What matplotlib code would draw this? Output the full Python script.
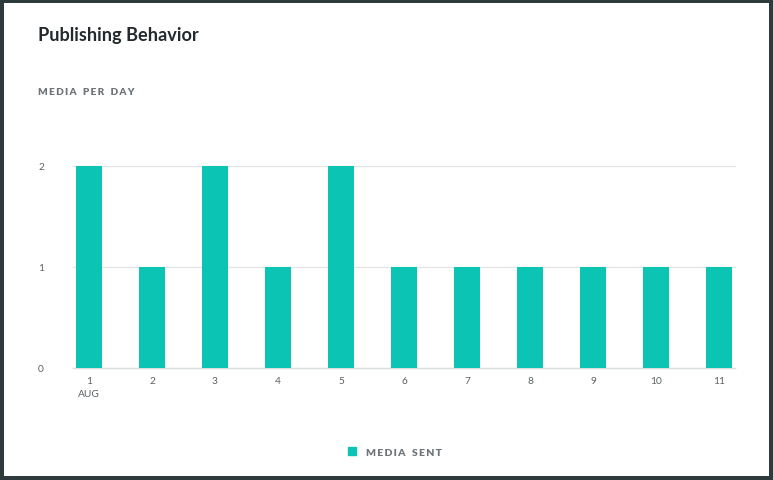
import matplotlib
matplotlib.use("Agg")
import matplotlib.pyplot as plt
from matplotlib.patches import Rectangle

days = [1, 2, 3, 4, 5, 6, 7, 8, 9, 10, 11]
media_sent = [2, 1, 2, 1, 2, 1, 1, 1, 1, 1, 1]
tick_labels = ["1\nAUG", "2", "3", "4", "5", "6", "7", "8", "9", "10", "11"]
y_ticks = [0, 1, 2]

bar_color = "#0cc4b3"
W, H = 773, 481
fig = plt.figure(figsize=(W / 100, H / 100), dpi=100)
fig.patch.set_facecolor("#2f3a3d")


def spaced(s):
    return "\u2009\u2002".join("\u2009".join(w) for w in s.split(" "))


# white card
fig.add_artist(Rectangle((4 / W, 4 / H), (769 - 4) / W, (477 - 4) / H,
                         transform=fig.transFigure, facecolor="white",
                         edgecolor="none", zorder=0))

ax = fig.add_axes([73 / W, 1 - 369 / H, (735 - 73) / W, (369 - 167) / H])
ax.set_facecolor("none")
ax.bar(days, media_sent, width=0.41, color=bar_color, zorder=3,
       label="MEDIA SENT")
ax.set_xlim(0.746, 11.254)
ax.set_ylim(0, 2)
ax.set_yticks(y_ticks)
ax.set_xticks(days)
ax.set_xticklabels(tick_labels, fontsize=7.3, color="#5a6063",
                   linespacing=1.5, va="top", ma="center", family="Lato")
ax.tick_params(axis="x", length=0, pad=6)
ax.tick_params(axis="y", length=0, pad=23, labelsize=7.3, labelcolor="#5a6063")
for lbl in ax.get_yticklabels():
    lbl.set_horizontalalignment("center")
    lbl.set_family("Lato")
ax.grid(axis="y", color="#e2e5e6", linewidth=0.9, zorder=0)
for g in ax.get_ygridlines():
    g.set_clip_on(False)
for s in ["top", "right", "left"]:
    ax.spines[s].set_visible(False)
ax.spines["bottom"].set_color("#dcdfe0")
ax.spines["bottom"].set_linewidth(1.0)

fig.text(38 / W, 1 - 36 / H, "Publishing Behavior", fontsize=13.1,
         fontweight="bold", color="#23292c", va="center", ha="left",
         family="Lato")
fig.text(38 / W, 1 - 93 / H, spaced("MEDIA PER DAY"),
         fontsize=7.2, fontweight="heavy", color="#6e7477", va="center",
         ha="left", family=["Lato", "DejaVu Sans"])

leg = fig.legend(handles=[Rectangle((0, 0), 1, 1, color=bar_color)],
                 labels=[spaced("MEDIA SENT")], loc="center",
                 bbox_to_anchor=(395 / W, 1 - 453 / H), frameon=False,
                 handlelength=0.75, handleheight=0.75, handletextpad=0.9,
                 prop={"family": ["Lato", "DejaVu Sans"], "weight": "heavy",
                       "size": 7.5})
for t in leg.get_texts():
    t.set_color("#6e7477")

fig.savefig("out.png", dpi=100, facecolor=fig.get_facecolor())
